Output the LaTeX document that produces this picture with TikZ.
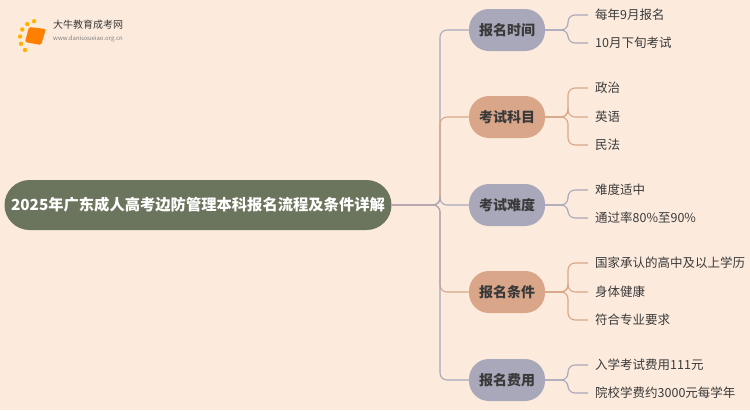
\documentclass[tikz,border=0pt]{standalone}
\usepackage{fontspec}
\usetikzlibrary{calc}
\setmainfont{Noto Sans CJK SC}
\begin{document}
\begin{tikzpicture}[x=1pt,y=-1pt,
 root/.style={rounded corners=25,fill=rootc,text=white,font=\bfseries\fontsize{15.3}{15}\selectfont,minimum width=387,minimum height=50,inner sep=0},
 br/.style={rounded corners=20,font=\bfseries\fontsize{14}{14}\selectfont,text=txt,minimum width=76,minimum height=42,inner sep=0},
 leaf/.style={anchor=west,font=\fontsize{12.5}{13}\selectfont,text=txt,inner sep=0},
 ln/.style={line width=1.1pt,rounded corners=7}]
\definecolor{bg}{HTML}{FCEBDD}
\definecolor{rootc}{HTML}{6B755D}
\definecolor{ga}{HTML}{A9A7BA}
\definecolor{sa}{HTML}{D9A689}
\definecolor{txt}{HTML}{3A3A3A}
\fill[bg] (0,0) rectangle (750,410);
\useasboundingbox (0,0) rectangle (750,410);
% logo
\foreach \a in {-100,-125,-150,-175,-200,-225}{\fill[orange!60!yellow] ($(37,38)+(\a:17)$) circle (2.2);}
\fill[orange, rounded corners=1.5] (29,27) -- (46,29) -- (41,45) -- (25,42) -- cycle;
\node[anchor=west,font=\fontsize{10}{10}\selectfont,text=txt,inner sep=0] (lg) at (53,25) {大牛教育成考网};
\node[anchor=west,font=\fontsize{6}{6}\selectfont,text=gray,inner sep=0] (lu) at (53,39) {www.daniuxueiao.org.cn};
\node[root] (r) at (198,205) {2025年广东成人高考边防管理本科报名流程及条件详解};
\foreach \n/\y/\c/\t in {b1/30/ga/报名时间,b2/117/sa/考试科目,b3/205/ga/考试难度,b4/292/sa/报名条件,b5/380/ga/报名费用}{
 \node[br,fill=\c] (\n) at (507,\y) {\t};
 \draw[ln,draw=\c] (r.east) -- (440,205) -- (440,\y) -- (\n.west);
}
\foreach \b/\by/\c/\ly/\t [count=\i] in {
 b1/30/ga/15/每年9月报名, b1/30/ga/43/10月下旬考试,
 b2/117/sa/88/政治, b2/117/sa/117/英语, b2/117/sa/145/民法,
 b3/205/ga/190/难度适中, b3/205/ga/218/通过率80\%至90\%,
 b4/292/sa/263/国家承认的高中及以上学历, b4/292/sa/292/身体健康, b4/292/sa/320/符合专业要求,
 b5/380/ga/365/入学考试费用111元, b5/380/ga/393/院校学费约3000元每学年}{
 \node[leaf] (l\i) at (595,\ly) {\t};
 \draw[ln,draw=\c] (\b.east) -- (568,\by) -- (568,\ly) -- (588,\ly);
}
\end{tikzpicture}
\end{document}
